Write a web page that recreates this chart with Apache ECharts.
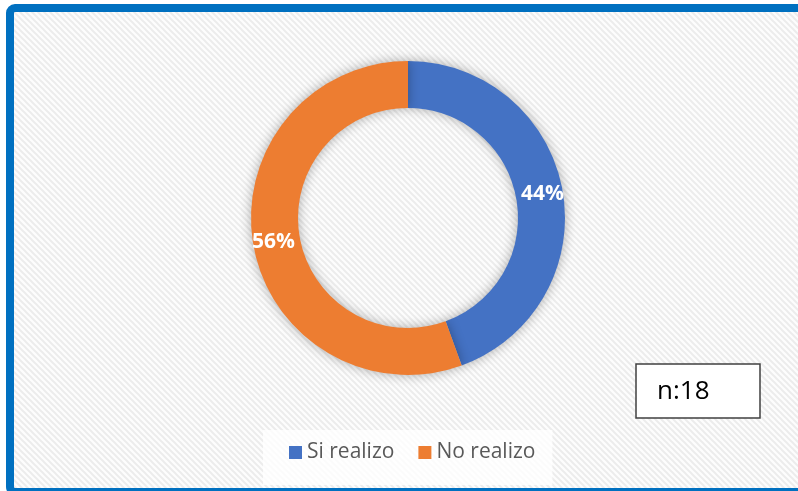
<!DOCTYPE html>
<html>
<head>
<meta charset="utf-8">
<script src="https://cdn.jsdelivr.net/npm/echarts@6/dist/echarts.min.js"></script>
<style>
  html, body { margin: 0; padding: 0; background: #fff; }
  .wrap { position: relative; width: 798px; height: 491px; overflow: hidden; }
  /* hatched plot background, seamless 6px tile */
  .hatch {
    position: absolute; left: 14px; top: 12px; right: 0; bottom: 0;
    background-color: #fdfdfd;
    background-image: url("data:image/svg+xml;utf8,<svg xmlns='http://www.w3.org/2000/svg' width='6' height='6'><path d='M0,0 L6,6 M-3,3 L3,9 M3,-3 L9,3' stroke='%23ececec' stroke-width='2'/></svg>");
    background-size: 6px 6px;
  }
  #chart { position: absolute; left: 0; top: 0; width: 798px; height: 491px; }
</style>
</head>
<body>
<div class="wrap">
  <div class="hatch"></div>
  <div id="chart"></div>
</div>
<script>
// data
const categories = ['Si realizo', 'No realizo']
const counts = [8, 10]
const colors = ['#4472C4', '#ED7D31']
const sampleLabel = 'n:18'

const chart = echarts.init(document.getElementById('chart'))

const option = {
  backgroundColor: 'transparent',
  animation: false,
  color: colors,
  legend: {
    data: categories,
    left: 263,
    top: 430,
    padding: [12, 17, 22, 26],
    backgroundColor: 'rgba(255,255,255,0.8)',
    icon: 'rect',
    itemWidth: 13,
    itemHeight: 13,
    itemGap: 24,
    textStyle: {
      fontFamily: 'Open Sans',
      fontSize: 21,
      color: '#595959'
    }
  },
  series: [
    {
      type: 'pie',
      center: [408, 218],
      radius: [110, 157],
      startAngle: 90,
      clockwise: true,
      silent: true,
      data: categories.map((name, i) => ({ name: name, value: counts[i] })),
      itemStyle: {
        shadowBlur: 12,
        shadowColor: 'rgba(0,0,0,0.32)'
      },
      label: {
        show: true,
        position: 'inside',
        color: '#fff',
        fontFamily: 'Open Sans',
        fontWeight: 'bold',
        fontSize: 21,
        formatter: function (p) {
          return Math.round(p.percent) + '%'
        }
      },
      labelLine: { show: false }
    }
  ],
  graphic: [
    // outer blue frame
    {
      type: 'rect',
      shape: { x: 10, y: 8, width: 800, height: 484, r: 5 },
      style: { fill: null, stroke: '#0070C0', lineWidth: 8 },
      z: 100
    },
    // sample size box
    {
      type: 'rect',
      shape: { x: 636, y: 364, width: 124, height: 54 },
      style: { fill: '#fff', stroke: '#404040', lineWidth: 1.5 },
      z: 50
    },
    {
      type: 'text',
      x: 657,
      y: 392,
      style: {
        text: sampleLabel,
        fill: '#000',
        fontFamily: 'Open Sans',
        fontSize: 26,
        verticalAlign: 'middle'
      },
      z: 51
    }
  ]
}

chart.setOption(option)
</script>
</body>
</html>
